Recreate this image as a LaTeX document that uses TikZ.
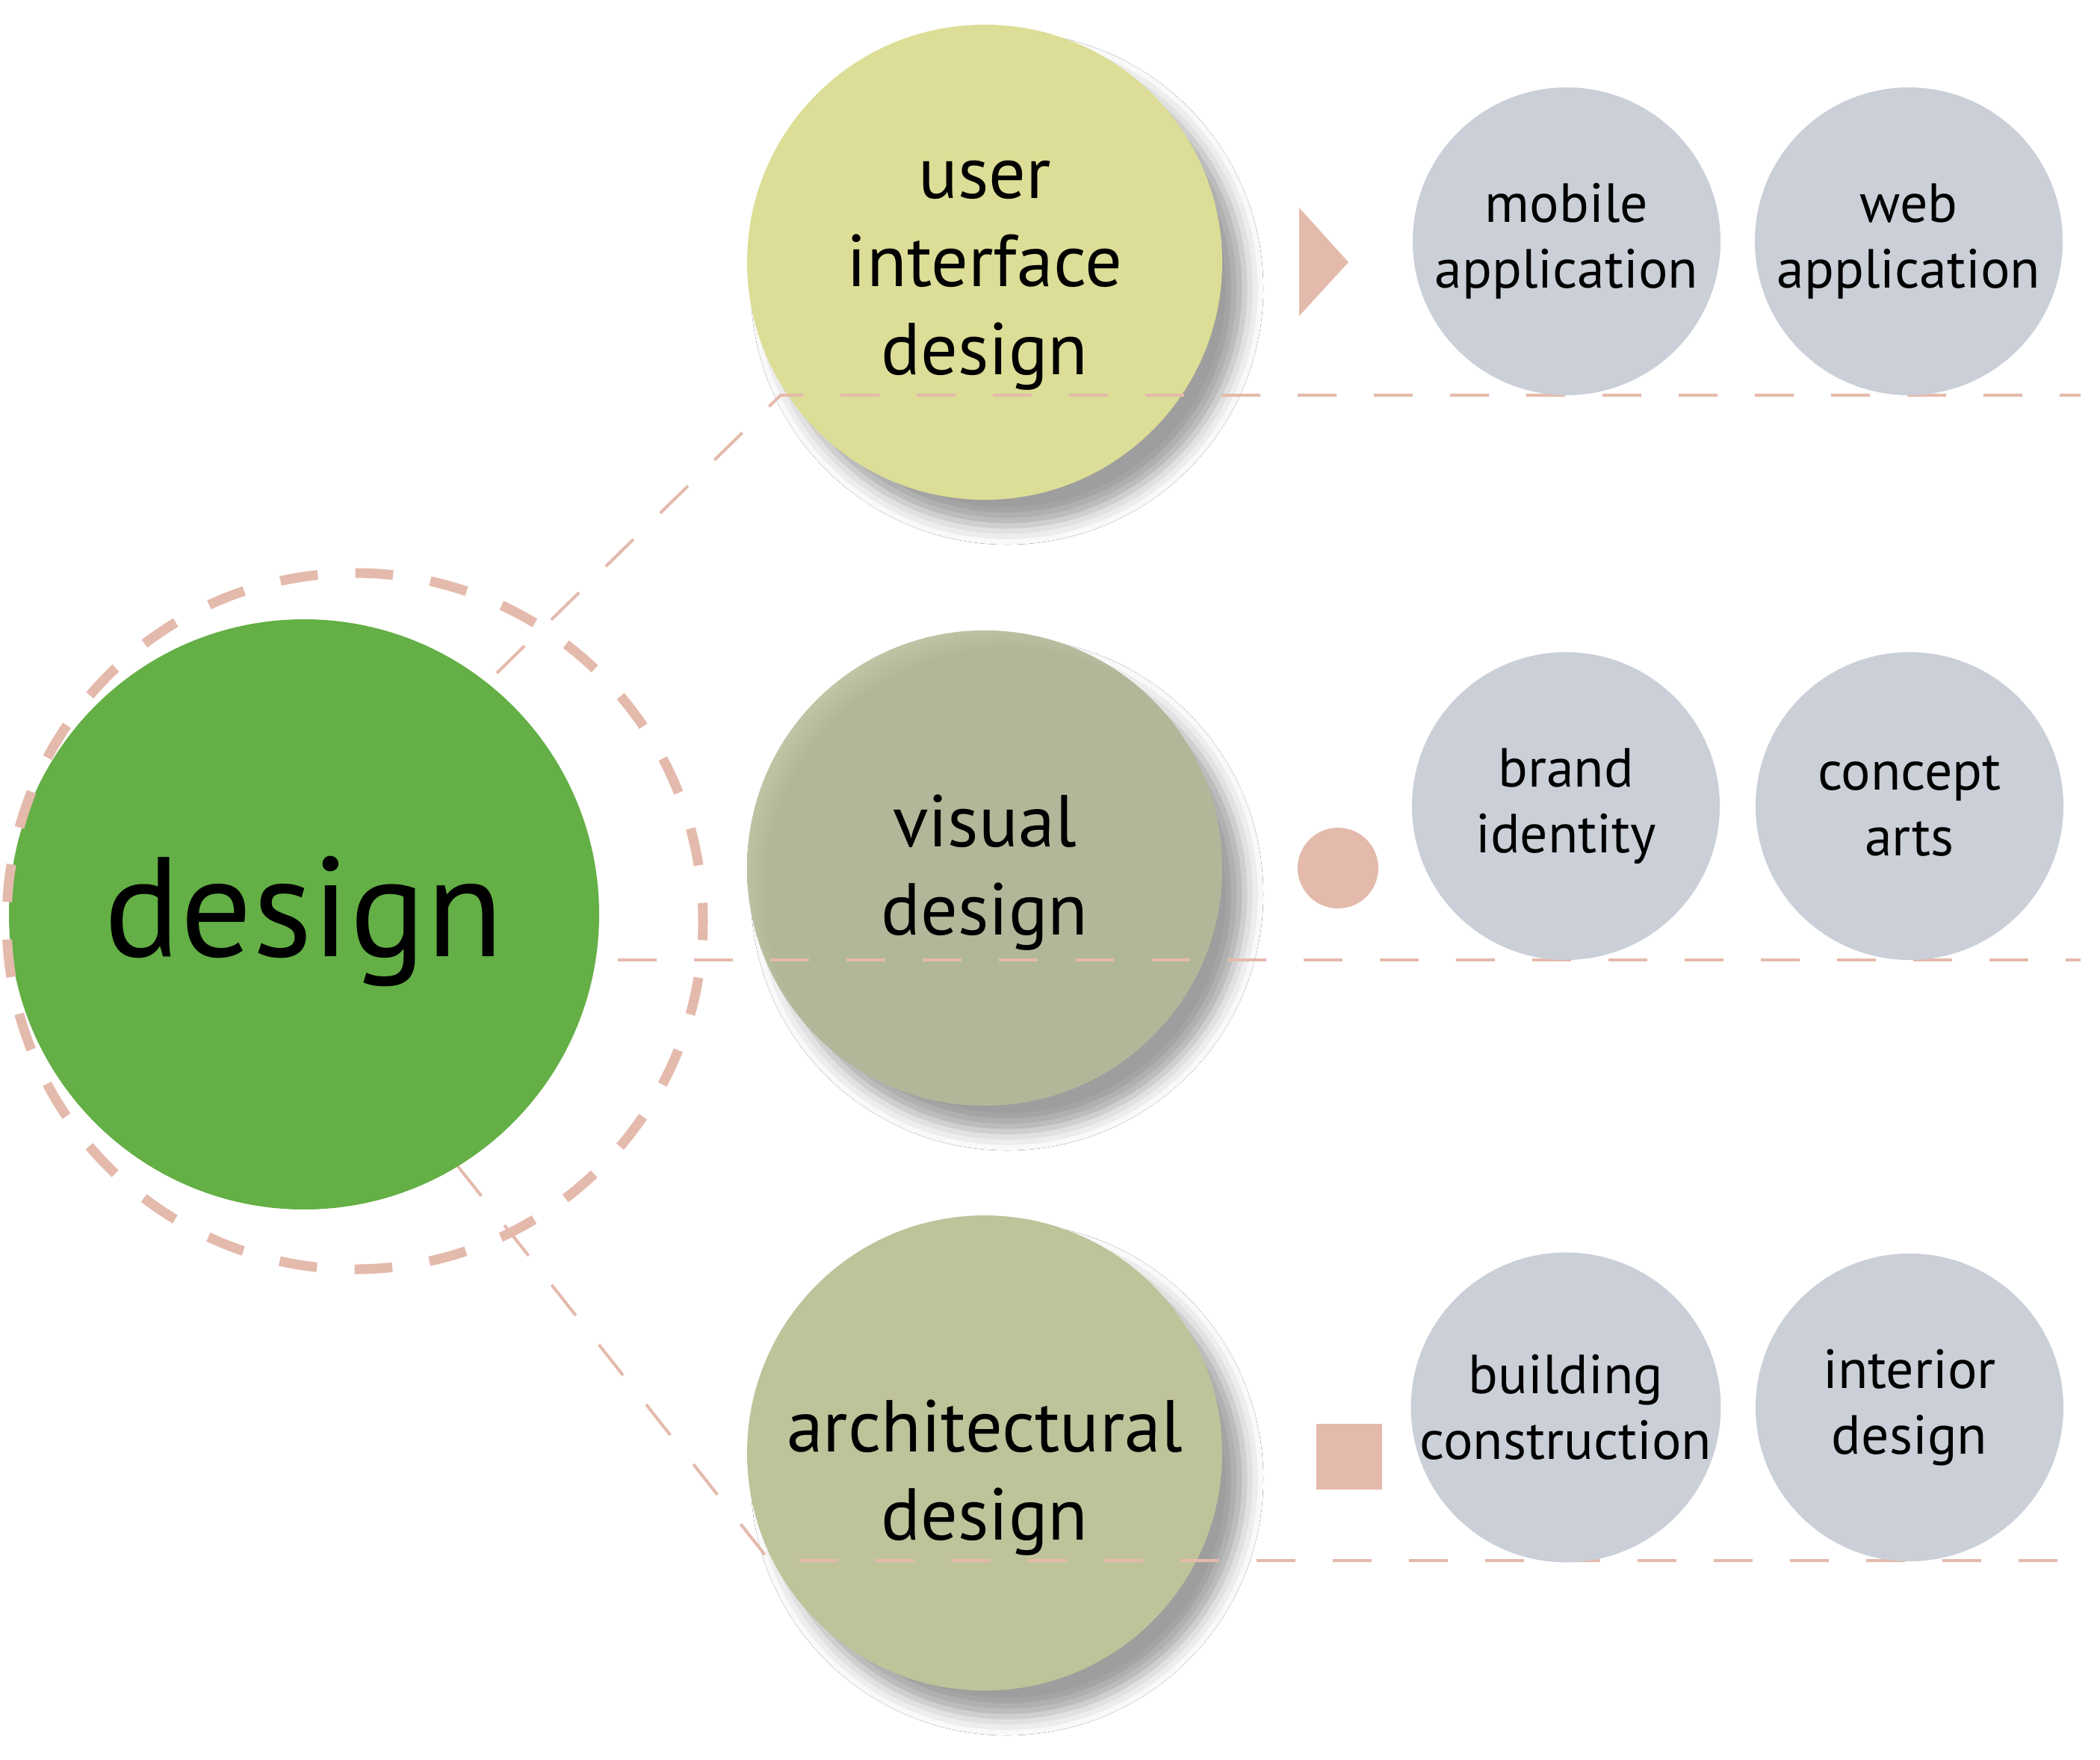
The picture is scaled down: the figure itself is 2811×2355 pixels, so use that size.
\documentclass[tikz,border=0pt]{standalone}
\usepackage{fontspec}
\setmainfont{PT Sans}
\usetikzlibrary{shadows.blur}

\definecolor{designGreen}{HTML}{64AF46}
\definecolor{uiYellow}{HTML}{DCDE97}
\definecolor{visualOlive}{HTML}{B3B79A}
\definecolor{archOlive}{HTML}{BFC39A}
\definecolor{leafGrey}{HTML}{CACFD8}
\definecolor{guidePink}{HTML}{E4BAAC}

% lighter rim on the upper left of the visual circle
\pgfdeclareradialshading{visualGlow}{\pgfpoint{5bp}{-5bp}}{%
  rgb(0bp)=(0.702,0.718,0.604); rgb(25.5bp)=(0.702,0.718,0.604);
  rgb(31bp)=(0.816,0.827,0.694); rgb(50bp)=(0.816,0.827,0.694)}

\tikzset{
  branch/.style={circle, minimum size=63.6mm, inner sep=0pt,
    blur shadow={shadow xshift=3mm, shadow yshift=-3.5mm,
      shadow blur radius=2.5mm, shadow opacity=38}},
  branchText/.style={align=center, font=\fontsize{28}{33.6}\selectfont},
  leaf/.style={circle, fill=leafGrey, minimum size=41.2mm, inner sep=0pt,
    align=center, font=\fontsize{21}{25}\selectfont},
  guide/.style={guidePink, line width=0.4mm, dash pattern=on 5.2mm off 5mm},
}

\begin{document}
\begin{tikzpicture}[x=0.1mm, y=-0.1mm]
\fill[white] (0,0) rectangle (2811,2355);

% second level
\node[branch, fill=uiYellow] (ui) at (1318,351) {};
\node[branch, fill=visualOlive] (visual) at (1318,1162) {};
\shade[shading=visualGlow] (visual.center) circle [radius=318];
\node[branch, fill=archOlive] (arch) at (1318,1945) {};
\node[branchText] (uiText) at ([yshift=-1.8mm]ui.center) {user\\interface\\design};
\node[branchText] (visualText) at ([yshift=-0.6mm]visual.center) {visual\\design};
\node[branchText] (archText) at ([yshift=-3.3mm]arch.center) {architectural\\design};

% guide lines
\coordinate (uiStart) at (665,901);
\coordinate (uiBend) at (1045,529);
\coordinate (uiEnd) at (2785,529);
\coordinate (visualStart) at (827,1285);
\coordinate (visualEnd) at (2785,1285);
\coordinate (archStart) at (612,1560);
\coordinate (archBend) at (1030,2089);
\coordinate (archEnd) at (2785,2089);
\draw[guide] (uiStart) -- (uiBend) -- (uiEnd);
\draw[guide] (visualStart) -- (visualEnd);
\draw[guide] (archStart) -- (archBend) -- (archEnd);

% root
\node[circle, fill=designGreen, minimum size=79mm, inner sep=0pt] (design) at (407,1224) {};
\node[font=\fontsize{54}{60}\selectfont] (designText) at ([yshift=-0.9mm]design.center) {design};
\draw[guidePink, line width=1.3mm, dash pattern=on 5.05mm off 5.05mm,
  dash phase=2.5mm] (475,1233) circle [radius=466];

% markers
\fill[guidePink] (1739,278) -- (1805,351) -- (1739,423) -- cycle;
\fill[guidePink] (1791,1162) circle [radius=54];
\fill[guidePink] (1762,1906) rectangle (1850,1994);

% third level
\node[leaf] (mobile) at (2097,323) {mobile\\application};
\node[leaf] (web) at (2555,323) {web\\application};
\node[leaf] (brand) at (2096,1079) {brand\\identity};
\node[leaf] (concept) at (2556,1079) {concept\\arts};
\node[leaf] (building) at (2096,1884) {building\\construction};
\node[leaf] (interior) at (2556,1884) {interior\\design};
\end{tikzpicture}
\end{document}
